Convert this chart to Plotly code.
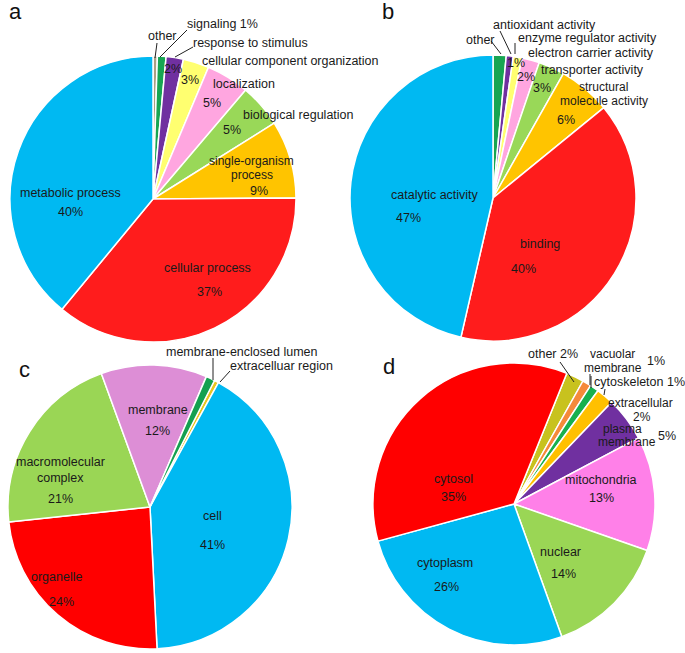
import plotly.graph_objects as go

W, H = 685, 653

# ---------------- data ----------------
labels_a = ["other", "signaling", "response to stimulus", "cellular component organization",
            "localization", "biological regulation", "single-organism process",
            "cellular process", "metabolic process"]
values_a = [0.5, 1, 2, 3, 5, 5, 9, 37, 40]

labels_b = ["other", "antioxidant activity", "enzyme regulator activity", "electron carrier activity",
            "transporter activity", "structural molecule activity", "binding", "catalytic activity"]
values_b = [1.5, 0.8, 1, 2, 3, 6, 40, 47]

labels_c = ["extracelluar region", "cell", "organelle", "macromolecular complex",
            "membrane", "membrane-enclosed lumen"]
values_c = [0.5, 41, 24, 21, 12, 1]

labels_d = ["other", "vacuolar membrane", "cytoskeleton", "extracellular", "plasma membrane",
            "mitochondria", "nuclear", "cytoplasm", "cytosol"]
values_d = [2, 1, 1, 2, 5, 13, 14, 26, 35]

# ---------------- styles ----------------
colors_a = ["#ab9f84", "#17a552", "#7030a0", "#ffff70", "#ffa6e0", "#99d858", "#ffc400", "#ff1c1c", "#00b9f2"]
colors_b = ["#17a552", "#7030a0", "#ffff70", "#ffa6e0", "#99d858", "#ffc400", "#ff1c1c", "#00b9f2"]
colors_c = ["#e8c520", "#00b9f2", "#ff0000", "#9ad655", "#dd8ed6", "#14a050"]
colors_d = ["#c8c21e", "#f58a3a", "#17b04e", "#ffc000", "#7030a0", "#ff80e8", "#9ad655", "#00b9f2", "#ff0000"]

FONT = "Liberation Sans, Arial, sans-serif"
TXT = "#1a1a1a"


def dom(cx, cy, r):
    return dict(x=[(cx - r) / W, (cx + r) / W], y=[1 - (cy + r) / H, 1 - (cy - r) / H])


fig = go.Figure()
pies = [
    (labels_a, values_a, colors_a, (153, 199, 143), 0),
    (labels_b, values_b, colors_b, (493, 198, 143), 0),
    (labels_c, values_c, colors_c, (150, 507, 142), 27),
    (labels_d, values_d, colors_d, (514, 504, 141), 22),
]
for labs, vals, cols, (cx, cy, r), rot in pies:
    fig.add_trace(go.Pie(
        labels=labs, values=vals, sort=False, direction="clockwise", rotation=rot,
        domain=dom(cx, cy, r), textinfo="none",
        marker=dict(colors=cols, line=dict(color="white", width=1.5)),
        showlegend=False,
    ))

# ---------------- text labels (pixel positions, font size) ----------------
labels_txt = [
    # panel a
    ("other", 162, 36, 12.5), ("signaling 1%", 222, 24, 12.5), ("response to stimulus", 250, 43, 12.5),
    ("2%", 173, 69, 12.5), ("cellular component organization", 290, 61, 12.5), ("3%", 190, 80, 12.5),
    ("localization", 244, 84, 12.5), ("5%", 212, 103, 12.5), ("biological regulation", 298, 115, 12.5),
    ("5%", 232, 130, 12.5), ("single-organism", 252, 161.5, 12), ("process", 252, 175, 12),
    ("9%", 259, 191, 12.5),
    ("metabolic process", 70, 193, 12.5), ("40%", 70, 212, 12.5),
    ("cellular process", 207, 268, 12.5), ("37%", 209, 292, 12.5),
    # panel b
    ("other", 480, 40, 12.5), ("antioxidant activity", 544, 25, 12.5),
    ("enzyme regulator activity", 587, 38, 12.5), ("electron carrier activity", 591, 53, 12.5),
    ("1%", 516, 63, 12.5), ("2%", 526, 77, 12.5), ("transporter activity", 592, 70, 12.5),
    ("3%", 542, 88, 12.5), ("structural", 603, 87, 12), ("molecule activity", 604, 100.5, 12),
    ("6%", 566, 120, 12.5),
    ("catalytic activity", 435, 195, 12.5), ("47%", 408, 218, 12.5),
    ("binding", 540, 244, 12.5), ("40%", 523, 269, 12.5),
    # panel c
    ("membrane-enclosed lumen", 242, 352, 12.5), ("extracelluar region", 281, 366, 12.5),
    ("membrane", 158, 410, 12.5), ("12%", 157, 431, 12.5),
    ("macromolecular", 60, 462, 12.5), ("complex", 60, 478, 12.5), ("21%", 60, 499, 12.5),
    ("organelle", 56, 577, 12.5), ("24%", 61, 602, 12.5),
    ("cell", 213, 516, 12.5), ("41%", 213, 545, 12.5),
    # panel d
    ("other 2%", 553, 354, 12.5), ("vacuolar", 612, 354, 12), ("membrane", 613, 367.5, 12),
    ("1%", 656, 361, 12.5), ("cytoskeleton 1%", 639, 382, 12.5),
    ("extracellular", 640, 403, 12), ("2%", 642, 416.5, 12),
    ("plasma", 622, 428.5, 12), ("membrane", 627, 442, 12), ("5%", 667, 436, 12.5),
    ("mitochondria", 601, 480, 12.5), ("13%", 601, 498, 12.5),
    ("nuclear", 560, 552, 12.5), ("14%", 563, 574, 12.5),
    ("cytoplasm", 445, 563, 12.5), ("26%", 447, 587, 12.5),
    ("cytosol", 453, 479, 12.5), ("35%", 453, 497, 12.5),
]
panel_letters = [("a", 15, 12), ("b", 388, 12), ("c", 25, 369), ("d", 389, 366)]

ann = []
for t, x, y, s in labels_txt:
    ann.append(dict(text=t, x=x / W, y=1 - y / H, xref="paper", yref="paper",
                    xanchor="center", yanchor="middle", showarrow=False,
                    font=dict(family=FONT, size=s, color=TXT)))
for t, x, y in panel_letters:
    ann.append(dict(text=t, x=x / W, y=1 - y / H, xref="paper", yref="paper",
                    xanchor="center", yanchor="middle", showarrow=False,
                    font=dict(family=FONT, size=22, color="#111")))

leaders = [
    (157, 43, 155, 58), (187, 30, 160, 57), (193, 47, 175, 57),
    (491, 41, 501, 54), (500, 31, 511, 54), (515, 43, 515, 54),
    (213, 358, 213, 380), (230, 371, 220, 382),
    (560, 362, 574, 382), (590, 374, 590, 385), (591, 376, 591, 388), (605, 389, 604, 395),
]
shapes = []
for x0, y0, x1, y1 in leaders:
    shapes.append(dict(type="line", xref="paper", yref="paper",
                       x0=x0 / W, y0=1 - y0 / H, x1=x1 / W, y1=1 - y1 / H,
                       line=dict(color="#222", width=1)))

fig.update_layout(
    width=W, height=H, margin=dict(l=0, r=0, t=0, b=0),
    paper_bgcolor="white", plot_bgcolor="white",
    annotations=ann, shapes=shapes, showlegend=False,
)
fig.write_html("out.html", config={"displayModeBar": False},
               post_script="document.body.style.margin='0px';document.body.style.padding='0px';")
